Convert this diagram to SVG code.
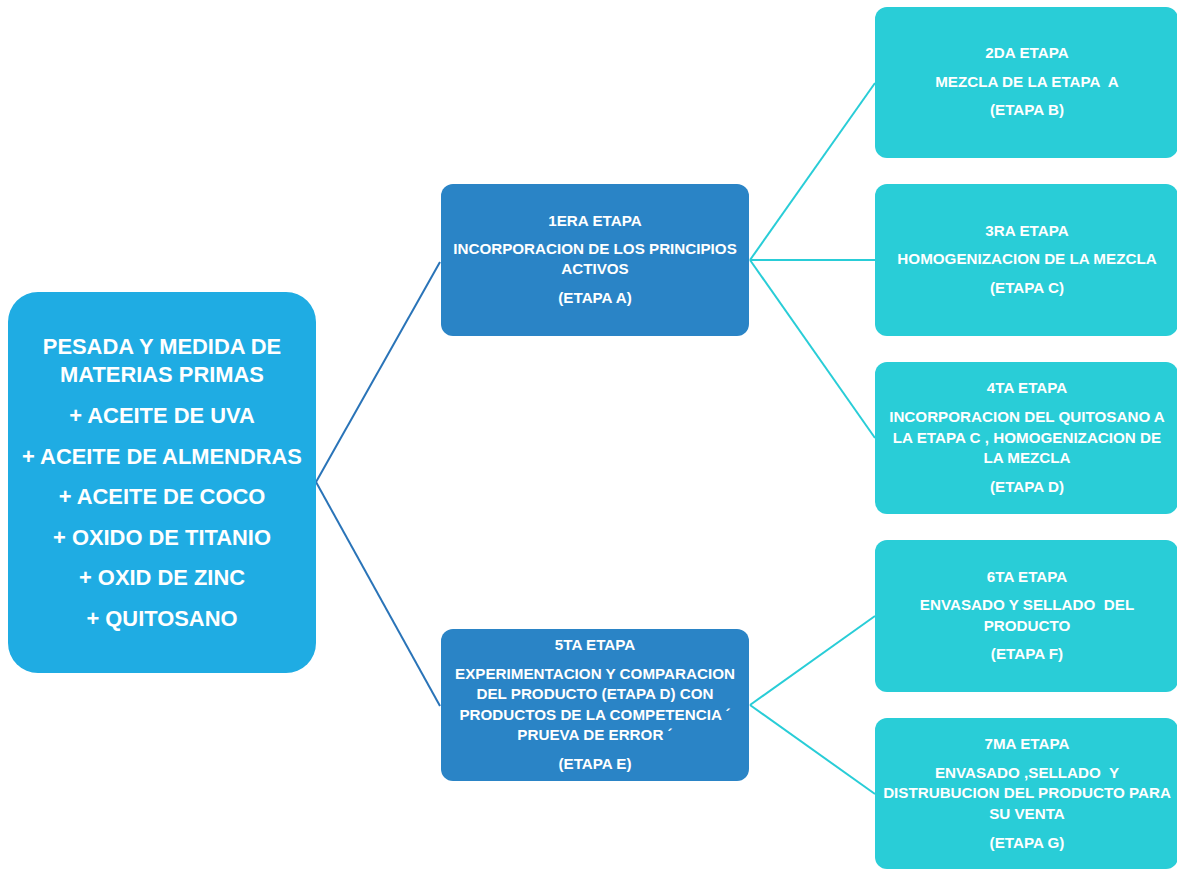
<svg xmlns="http://www.w3.org/2000/svg" width="1177" height="869" viewBox="0 0 1177 869">
<style>
.t{font-family:"Liberation Sans",Arial,sans-serif;font-weight:bold;fill:#fff;text-anchor:middle;white-space:pre}
.s{font-size:15.2px}
.r{font-size:21.9px}
.root{fill:#1FACE3}
.mid{fill:#2A84C6}
.leaf{fill:#29CDD7}
.cl{stroke:#2A74B8;stroke-width:2;fill:none}
.cr{stroke:#29CDD7;stroke-width:2;fill:none}
</style>
<rect width="1177" height="869" fill="#fff"/>
<g id="connectors">
<path class="cl" d="M316,482 L440,262"/>
<path class="cl" d="M316,482 L440,706"/>
<path class="cr" d="M750,260 L875,83"/>
<path class="cr" d="M750,260 L875,260"/>
<path class="cr" d="M750,260 L875,438"/>
<path class="cr" d="M750,705 L875,616"/>
<path class="cr" d="M750,705 L875,794"/>
</g>
<g id="root">
<rect class="root" x="8" y="292" width="308" height="381" rx="30"/>
<text class="t r" x="162" y="354">PESADA Y MEDIDA DE</text>
<text class="t r" x="162" y="382">MATERIAS PRIMAS</text>
<text class="t r" x="162" y="423">+ ACEITE DE UVA</text>
<text class="t r" x="162" y="464">+ ACEITE DE ALMENDRAS</text>
<text class="t r" x="162" y="504">+ ACEITE DE COCO</text>
<text class="t r" x="162" y="545">+ OXIDO DE TITANIO</text>
<text class="t r" x="162" y="585">+ OXID DE ZINC</text>
<text class="t r" x="162" y="626">+ QUITOSANO</text>
</g>
<g id="etapaA">
<rect class="mid" x="441" y="184" width="308" height="152" rx="12"/>
<text class="t s" x="595" y="226">1ERA ETAPA</text>
<text class="t s" x="595" y="254">INCORPORACION DE LOS PRINCIPIOS</text>
<text class="t s" x="595" y="274">ACTIVOS</text>
<text class="t s" x="595" y="303">(ETAPA A)</text>
</g>
<g id="etapaE">
<rect class="mid" x="441" y="629" width="308" height="152" rx="12"/>
<text class="t s" x="595" y="650">5TA ETAPA</text>
<text class="t s" x="595" y="679">EXPERIMENTACION Y COMPARACION</text>
<text class="t s" x="595" y="699">DEL PRODUCTO (ETAPA D) CON</text>
<text class="t s" x="595" y="720">PRODUCTOS DE LA COMPETENCIA ´</text>
<text class="t s" x="595" y="740">PRUEVA DE ERROR ´</text>
<text class="t s" x="595" y="769">(ETAPA E)</text>
</g>
<g id="etapaB">
<rect class="leaf" x="875" y="7" width="303" height="151" rx="12"/>
<text class="t s" x="1027" y="58">2DA ETAPA</text>
<text class="t s" x="1027" y="87">MEZCLA DE LA ETAPA  A</text>
<text class="t s" x="1027" y="115">(ETAPA B)</text>
</g>
<g id="etapaC">
<rect class="leaf" x="875" y="184" width="303" height="152" rx="12"/>
<text class="t s" x="1027" y="236">3RA ETAPA</text>
<text class="t s" x="1027" y="264">HOMOGENIZACION DE LA MEZCLA</text>
<text class="t s" x="1027" y="293">(ETAPA C)</text>
</g>
<g id="etapaD">
<rect class="leaf" x="875" y="362" width="303" height="152" rx="12"/>
<text class="t s" x="1027" y="393">4TA ETAPA</text>
<text class="t s" x="1027" y="422">INCORPORACION DEL QUITOSANO A</text>
<text class="t s" x="1027" y="443">LA ETAPA C , HOMOGENIZACION DE</text>
<text class="t s" x="1027" y="463">LA MEZCLA</text>
<text class="t s" x="1027" y="492">(ETAPA D)</text>
</g>
<g id="etapaF">
<rect class="leaf" x="875" y="540" width="303" height="152" rx="12"/>
<text class="t s" x="1027" y="582">6TA ETAPA</text>
<text class="t s" x="1027" y="610">ENVASADO Y SELLADO  DEL</text>
<text class="t s" x="1027" y="631">PRODUCTO</text>
<text class="t s" x="1027" y="659">(ETAPA F)</text>
</g>
<g id="etapaG">
<rect class="leaf" x="875" y="718" width="303" height="151" rx="12"/>
<text class="t s" x="1027" y="749">7MA ETAPA</text>
<text class="t s" x="1027" y="778">ENVASADO ,SELLADO  Y</text>
<text class="t s" x="1027" y="798">DISTRUBUCION DEL PRODUCTO PARA</text>
<text class="t s" x="1027" y="819">SU VENTA</text>
<text class="t s" x="1027" y="848">(ETAPA G)</text>
</g>
</svg>
